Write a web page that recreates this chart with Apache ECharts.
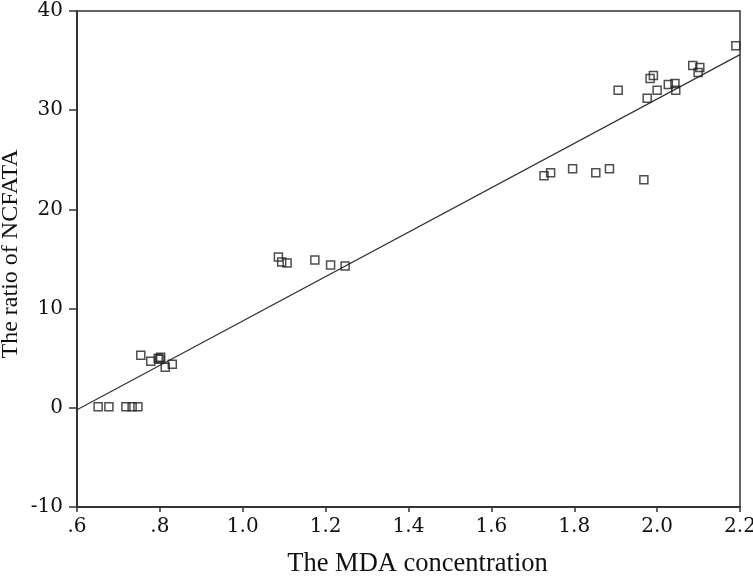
<!DOCTYPE html>
<html>
<head>
<meta charset="utf-8">
<script src="https://cdn.jsdelivr.net/npm/echarts@6/dist/echarts.min.js"></script>
<style>html,body{margin:0;padding:0;background:#fff;}#c{width:753px;height:576px;}</style>
</head>
<body>
<div id="c"></div>
<script>
// Observed points (MDA concentration, ratio of NCFATA)
const mda = [0.651,0.677,0.718,0.733,0.747,
  0.754,0.778,0.796,0.802,0.800,0.813,0.830,
  1.086,1.094,1.107,1.174,1.212,1.247,
  1.727,1.743,1.796,1.852,1.885,1.968,
  1.906,1.983,1.991,2.000,1.976,2.027,2.043,2.045,2.086,2.103,2.099,2.190];
const ncfata = [0.1,0.1,0.1,0.1,0.1,
  5.3,4.7,5.0,5.1,4.9,4.1,4.4,
  15.2,14.7,14.6,14.9,14.4,14.3,
  23.4,23.7,24.1,23.7,24.1,23.0,
  32.0,33.2,33.5,32.0,31.2,32.6,32.7,32.0,34.5,34.3,33.8,36.5];
// Fitted line end points
const fitX = [0.6, 2.2];
const fitY = [-0.2, 35.6];
// Axis settings
const xTicks = {min:0.6, max:2.2, step:0.2};
const yTicks = {min:-10, max:40, step:10};
const xTitle = 'The MDA concentration';
const yTitle = 'The ratio of NCFATA';

const tickFont = 'DejaVu Serif';
const titleFont = 'Liberation Serif';
const chart = echarts.init(document.getElementById('c'));
chart.setOption({
  animation:false,
  backgroundColor:'#fff',
  grid:{left:77,right:13,top:11,bottom:69,outerBoundsMode:'none',containLabel:false,
    show:true,borderColor:'#333',borderWidth:1.5,backgroundColor:'transparent'},
  xAxis:{type:'value',min:xTicks.min,max:xTicks.max,interval:xTicks.step,
    name:xTitle,nameLocation:'middle',nameGap:44,
    nameTextStyle:{fontFamily:titleFont,fontSize:26.5,color:'#111',padding:[0,0,0,18]},
    axisLine:{show:true,onZero:false,lineStyle:{color:'#333',width:2}},
    axisTick:{show:true,length:5,lineStyle:{color:'#333',width:1.5}},
    axisLabel:{margin:10,fontFamily:tickFont,fontSize:20,color:'#111',showMinLabel:true,showMaxLabel:true,
      formatter:v=>{const s=(Math.round(v*10)/10).toFixed(1);return s.startsWith('0')?s.slice(1):s;}},
    splitLine:{show:false}},
  yAxis:{type:'value',min:yTicks.min,max:yTicks.max,interval:yTicks.step,
    name:yTitle,nameLocation:'middle',nameGap:54,nameMoveOverlap:false,
    nameTextStyle:{fontFamily:titleFont,fontSize:24,color:'#111',padding:[0,0,0,10]},
    axisLine:{show:true,onZero:false,lineStyle:{color:'#333',width:2}},
    axisTick:{show:true,length:8,lineStyle:{color:'#333',width:1.5}},
    axisLabel:{margin:14,fontFamily:tickFont,fontSize:20,color:'#111'},
    splitLine:{show:false}},
  series:[
    {type:'line',data:fitX.map((x,i)=>[x,fitY[i]]),symbol:'none',
      lineStyle:{color:'#333',width:1.2},z:1},
    {type:'scatter',data:mda.map((x,i)=>[x,ncfata[i]]),symbol:'rect',symbolSize:8,
      itemStyle:{color:'rgba(255,255,255,0)',borderColor:'#222',borderWidth:1.5},z:2}
  ]
});
</script>
</body>
</html>
